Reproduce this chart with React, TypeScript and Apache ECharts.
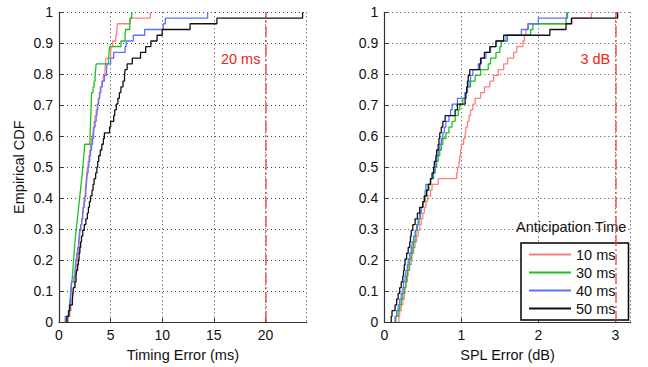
import React, { useEffect, useRef } from "react";
import * as echarts from "echarts";

const seriesNames = ["10 ms", "30 ms", "40 ms", "50 ms"];
const seriesColors = ["#ff7f7f", "#1cc21c", "#5a72ff", "#111111"];

// Timing error samples (ms)
const timing10 = [0.9, 1.05, 1.15, 1.25, 1.3, 1.38, 1.5, 1.55, 1.6, 1.68, 1.75, 1.8, 1.88, 1.95, 2.0, 2.05, 2.12, 2.2, 2.28, 2.35, 2.42, 2.48, 2.55, 2.6, 2.65, 2.7, 2.75, 2.82, 2.9, 2.98, 3.05, 3.15, 3.25, 3.32, 3.4, 3.5, 3.6, 3.7, 3.8, 3.9, 4.0, 4.15, 4.3, 4.45, 4.5, 4.55, 5.0, 5.05, 5.2, 5.5, 5.6, 5.65, 6.9, 8.85];
const timing30 = [0.8, 0.95, 1.02, 1.08, 1.12, 1.18, 1.24, 1.3, 1.34, 1.38, 1.42, 1.46, 1.5, 1.55, 1.6, 1.66, 1.72, 1.78, 1.84, 1.9, 1.96, 2.02, 2.08, 2.14, 2.2, 2.26, 2.3, 2.35, 2.4, 2.45, 2.5, 3.0, 3.02, 3.04, 3.06, 3.08, 3.1, 3.12, 3.14, 3.16, 3.3, 3.4, 3.5, 3.55, 3.6, 4.8, 4.85, 4.9, 6.0, 6.4, 6.45, 6.85, 6.9, 7.05];
const timing40 = [0.6, 0.9, 1.0, 1.1, 1.15, 1.18, 1.2, 1.45, 1.55, 1.6, 1.65, 1.72, 1.8, 1.9, 1.95, 2.0, 2.1, 2.2, 2.3, 2.35, 2.45, 2.52, 2.6, 2.65, 2.7, 2.75, 2.82, 2.9, 2.98, 3.05, 3.15, 3.25, 3.35, 3.4, 3.5, 3.6, 3.68, 3.75, 3.85, 3.95, 4.05, 4.2, 4.4, 4.6, 4.65, 5.0, 5.3, 6.4, 6.5, 7.2, 8.3, 10.1, 10.3, 14.4];
const timing50 = [0.75, 0.95, 1.05, 1.3, 1.35, 1.4, 1.55, 1.65, 1.7, 1.8, 1.88, 1.95, 2.02, 2.1, 2.18, 2.3, 2.45, 2.6, 2.75, 2.85, 2.95, 3.05, 3.2, 3.3, 3.4, 3.55, 3.67, 3.75, 3.85, 4.0, 4.15, 4.3, 4.4, 4.9, 5.0, 5.3, 5.4, 5.55, 5.7, 5.85, 6.0, 6.2, 6.35, 6.4, 6.6, 7.1, 7.9, 8.4, 8.9, 9.5, 10.0, 12.7, 15.3, 23.6];

// SPL error samples (dB)
const spl10 = [0.19, 0.2, 0.22, 0.24, 0.26, 0.27, 0.28, 0.3, 0.31, 0.33, 0.35, 0.36, 0.38, 0.4, 0.42, 0.44, 0.46, 0.48, 0.5, 0.52, 0.54, 0.56, 0.6, 0.62, 0.7, 0.94, 0.95, 0.97, 0.98, 0.99, 1.0, 1.03, 1.05, 1.06, 1.08, 1.1, 1.12, 1.15, 1.18, 1.25, 1.3, 1.37, 1.42, 1.48, 1.55, 1.6, 1.68, 1.72, 1.8, 1.82, 1.84, 1.86, 2.44, 2.69];
const spl30 = [0.15, 0.18, 0.2, 0.22, 0.24, 0.26, 0.28, 0.29, 0.3, 0.32, 0.33, 0.35, 0.37, 0.38, 0.4, 0.41, 0.43, 0.45, 0.47, 0.48, 0.5, 0.53, 0.55, 0.58, 0.6, 0.64, 0.66, 0.68, 0.7, 0.72, 0.74, 0.76, 0.8, 0.84, 0.88, 0.92, 0.96, 0.98, 1.02, 1.05, 1.08, 1.12, 1.18, 1.25, 1.35, 1.38, 1.45, 1.5, 1.52, 1.58, 1.9, 1.93, 2.36, 2.38];
const spl40 = [0.14, 0.16, 0.18, 0.2, 0.22, 0.24, 0.25, 0.27, 0.28, 0.3, 0.31, 0.33, 0.35, 0.36, 0.38, 0.4, 0.42, 0.44, 0.46, 0.48, 0.5, 0.52, 0.53, 0.54, 0.6, 0.63, 0.66, 0.67, 0.68, 0.7, 0.72, 0.74, 0.76, 0.78, 0.8, 0.84, 0.86, 0.88, 0.95, 1.05, 1.08, 1.1, 1.12, 1.15, 1.22, 1.26, 1.32, 1.38, 1.45, 1.6, 1.78, 1.87, 2.0, 2.37];
const spl50 = [0.09, 0.1, 0.14, 0.16, 0.18, 0.2, 0.22, 0.24, 0.25, 0.26, 0.27, 0.29, 0.31, 0.33, 0.34, 0.35, 0.37, 0.4, 0.43, 0.46, 0.5, 0.52, 0.55, 0.57, 0.6, 0.62, 0.64, 0.65, 0.67, 0.68, 0.7, 0.71, 0.72, 0.74, 0.76, 0.79, 0.92, 0.95, 1.05, 1.06, 1.07, 1.08, 1.09, 1.11, 1.24, 1.25, 1.3, 1.37, 1.45, 1.55, 2.15, 2.36, 2.43, 3.03];

const timingSets = [timing10, timing30, timing40, timing50];
const splSets = [spl10, spl30, spl40, spl50];
const timingThreshold = 20;
const splThreshold = 3;
const timingLabel = "20 ms";
const splLabel = "3 dB";

const FONT = "Liberation Sans, Arial, Helvetica, sans-serif";

function ecdf(samples: number[]) {
  const s = [...samples].sort((a, b) => a - b);
  const n = s.length;
  const pts: number[][] = [[s[0], 0]];
  s.forEach((v, i) => pts.push([v, (i + 1) / n]));
  return pts;
}

function makeXAxis(gridIndex: number, max: number, interval: number, name: string) {
  return {
    type: "value",
    gridIndex,
    min: 0,
    max,
    interval,
    name,
    nameLocation: "middle",
    nameGap: 23,
    nameTextStyle: { fontFamily: FONT, fontSize: 14.5, color: "#111" },
    axisLine: { show: true, lineStyle: { color: "#333", width: 1.2 } },
    axisTick: { show: true, inside: true, length: 4, lineStyle: { color: "#333" } },
    axisLabel: { fontFamily: FONT, fontSize: 14, color: "#111", margin: 6, showMaxLabel: false },
    splitLine: { show: true, lineStyle: { color: "#444", type: [1, 3], width: 1 } },
  };
}

function makeYAxis(gridIndex: number, name: string) {
  return {
    type: "value",
    gridIndex,
    min: 0,
    max: 1,
    interval: 0.1,
    name,
    nameLocation: "middle",
    nameGap: 33,
    nameTextStyle: { fontFamily: FONT, fontSize: 14.5, color: "#111" },
    axisLine: { show: true, lineStyle: { color: "#333", width: 1.2 } },
    axisTick: { show: true, inside: true, length: 4, lineStyle: { color: "#333" } },
    axisLabel: {
      fontFamily: FONT,
      fontSize: 14,
      color: "#111",
      margin: 6,
      formatter: (v: number) => String(Math.round(v * 10) / 10),
    },
    splitLine: { show: true, lineStyle: { color: "#444", type: [1, 3], width: 1 } },
  };
}

function thresholdSeries(idx: number, value: number, label: string) {
  return {
    type: "line",
    name: "threshold" + idx,
    xAxisIndex: idx,
    yAxisIndex: idx,
    data: [],
    silent: true,
    z: 5,
    markLine: {
      symbol: "none",
      silent: true,
      label: { show: false },
      lineStyle: { color: "#ee3b3b", width: 1.5, type: [11, 3, 2, 3], opacity: 0.85 },
      data: [{ xAxis: value }],
    },
    markPoint: {
      symbol: "circle",
      symbolSize: 0,
      label: {
        show: true,
        position: "left",
        distance: 5,
        formatter: label,
        fontFamily: FONT,
        fontSize: 14.5,
        color: "#ee2222",
      },
      data: [{ coord: [value, 0.848] }],
    },
  };
}

export default function App() {
  const ref = useRef<HTMLDivElement>(null);
  useEffect(() => {
    if (!ref.current) return;
    const chart = echarts.init(ref.current, undefined, { renderer: "svg" });
    const series: any[] = [];
    [timingSets, splSets].forEach((sets, gi) => {
      sets.forEach((samples, si) => {
        series.push({
          type: "line",
          name: seriesNames[si],
          xAxisIndex: gi,
          yAxisIndex: gi,
          step: "end",
          showSymbol: false,
          symbol: "none",
          data: ecdf(samples),
          lineStyle: { color: seriesColors[si], width: 1.3 },
          itemStyle: { color: seriesColors[si] },
          z: 3 + si * 0.1,
        });
      });
    });
    series.push(thresholdSeries(0, timingThreshold, timingLabel));
    series.push(thresholdSeries(1, splThreshold, splLabel));

    chart.setOption({
      animation: false,
      backgroundColor: "#ffffff",
      textStyle: { fontFamily: FONT },
      grid: [
        { left: 59, top: 12.3, width: 247.7, height: 314.4 },
        { left: 384.3, top: 12.3, width: 246.4, height: 314.4 },
      ],
      xAxis: [
        makeXAxis(0, 24, 5, "Timing Error (ms)"),
        makeXAxis(1, 3.2, 1, "SPL Error (dB)"),
      ],
      yAxis: [makeYAxis(0, "Empirical CDF"), makeYAxis(1, "")],
      legend: {
        data: seriesNames,
        orient: "vertical",
        left: 521,
        top: 243,
        icon: "rect",
        itemWidth: 42,
        itemHeight: 2,
        itemGap: 3,
        padding: [4, 13, 4, 8],
        borderColor: "#000",
        borderWidth: 1.5,
        backgroundColor: "#fff",
        textStyle: { fontFamily: FONT, fontSize: 14.5, color: "#111" },
      },
      graphic: [
        {
          type: "text",
          left: 516,
          top: 219,
          style: { text: "Anticipation Time", font: "14.5px " + FONT, fill: "#111" },
        },
      ],
      series,
    });
    return () => chart.dispose();
  }, []);
  return (
    <div
      ref={ref}
      style={{ position: "fixed", left: 0, top: 0, width: 648, height: 367 }}
    />
  );
}
